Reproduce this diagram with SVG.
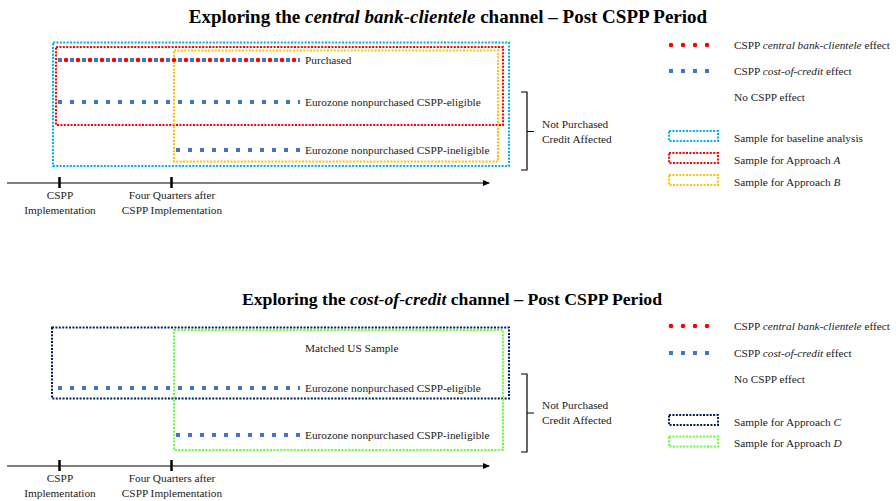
<svg xmlns="http://www.w3.org/2000/svg" width="896" height="501" viewBox="0 0 896 501">
<defs>
<style>
text{font-family:"Liberation Serif","Times New Roman",serif;font-size:11.3px;fill:#222}
.title{font-weight:bold;fill:#000}
.mid{text-anchor:middle}
.box{fill:none;stroke-width:2;stroke-dasharray:2 1.4}
.cyan{stroke:#00B0F0}.red{stroke:#FF0000}.orange{stroke:#FFC000}.navy{stroke:#002060}.green{stroke:#66FF33}
.bdots{stroke:#4472C4;stroke-width:4;stroke-dasharray:4 8;fill:none}
.rdots{stroke:#FF0000;stroke-width:4.5;stroke-linecap:round;stroke-dasharray:0 12;fill:none}
.axis{stroke:#000;stroke-width:1.2;fill:none}
.tick{stroke:#000;stroke-width:2.5}
.br{stroke:#000;stroke-width:1.2;fill:none}
</style>
<marker id="arr" markerWidth="8" markerHeight="8" refX="6" refY="3" orient="auto" markerUnits="userSpaceOnUse">
<path d="M0,0 L7,3 L0,6 z" fill="#000"/>
</marker>
</defs>

<!-- TOP PANEL -->
<text class="title mid" x="448" y="23" style="font-size:19px">Exploring the <tspan font-style="italic">central bank-clientele</tspan> channel – Post CSPP Period</text>

<g id="sample-baseline"><rect class="box cyan" x="53" y="42.5" width="456" height="123.5"/></g>
<g id="sample-A"><rect class="box red" x="56" y="47" width="447" height="78"/></g>
<g id="sample-B"><rect class="box orange" x="174" y="50.5" width="324" height="111"/></g>

<g id="connectors">
<line class="bdots" x1="58" y1="60" x2="300" y2="60"/>
<line class="rdots" x1="66" y1="60" x2="298" y2="60"/>
<line class="bdots" x1="58" y1="102" x2="300" y2="102"/>
<line class="bdots" x1="176" y1="150" x2="300" y2="150"/>
<line class="axis" x1="7" y1="183" x2="489" y2="183" marker-end="url(#arr)"/>
<line class="tick" x1="59.5" y1="177" x2="59.5" y2="188"/>
<line class="tick" x1="171.5" y1="177" x2="171.5" y2="188"/>
<path class="br" d="M521,92 H527 V170 H521 M527,131.5 H534"/>

<line class="bdots" x1="58" y1="388" x2="300" y2="388"/>
<line class="bdots" x1="176" y1="435" x2="300" y2="435"/>
<line class="axis" x1="7" y1="466" x2="489" y2="466" marker-end="url(#arr)"/>
<line class="tick" x1="59.5" y1="460" x2="59.5" y2="471"/>
<line class="tick" x1="171.5" y1="460" x2="171.5" y2="471"/>
<path class="br" d="M521,374 H527 V452 H521 M527,413 H534"/>
</g>

<g id="purchased"><text x="305" y="64">Purchased</text></g>
<g id="eligible-top"><text x="305" y="106">Eurozone nonpurchased CSPP-eligible</text></g>
<g id="ineligible-top"><text x="305" y="154">Eurozone nonpurchased CSPP-ineligible</text></g>
<g id="bracket-top"><text x="542" y="128">Not Purchased</text><text x="542" y="143">Credit Affected</text></g>
<g id="t1-top"><text class="mid" x="60" y="199">CSPP</text><text class="mid" x="60" y="214">Implementation</text></g>
<g id="t2-top"><text class="mid" x="172" y="199">Four Quarters after</text><text class="mid" x="172" y="214">CSPP Implementation</text></g>

<g id="legend-top">
<line class="rdots" x1="671" y1="45" x2="709" y2="45"/>
<text x="734" y="49">CSPP <tspan font-style="italic">central bank-clientele</tspan> effect</text>
<line class="bdots" x1="669" y1="71" x2="711" y2="71"/>
<text x="734" y="75">CSPP <tspan font-style="italic">cost-of-credit</tspan> effect</text>
<text x="734" y="101">No CSPP effect</text>
<rect class="box cyan" x="669" y="131" width="49" height="10"/>
<text x="734" y="142">Sample for baseline analysis</text>
<rect class="box red" x="669" y="153" width="49" height="10"/>
<text x="734" y="164">Sample for Approach <tspan font-style="italic">A</tspan></text>
<rect class="box orange" x="669" y="175" width="49" height="10"/>
<text x="734" y="186">Sample for Approach <tspan font-style="italic">B</tspan></text>
</g>

<!-- BOTTOM PANEL -->
<text class="title mid" x="452" y="305" style="font-size:17.7px">Exploring the <tspan font-style="italic">cost-of-credit</tspan> channel – Post CSPP Period</text>

<g id="sample-C"><rect class="box navy" x="52" y="327.5" width="457" height="71"/></g>
<g id="sample-D"><rect class="box green" x="174" y="330" width="329" height="120"/></g>

<g id="matched"><text x="305" y="352">Matched US Sample</text></g>
<g id="eligible-bot"><text x="305" y="392">Eurozone nonpurchased CSPP-eligible</text></g>
<g id="ineligible-bot"><text x="305" y="439">Eurozone nonpurchased CSPP-ineligible</text></g>
<g id="bracket-bot"><text x="542" y="409">Not Purchased</text><text x="542" y="424">Credit Affected</text></g>
<g id="t1-bot"><text class="mid" x="60" y="482">CSPP</text><text class="mid" x="60" y="497">Implementation</text></g>
<g id="t2-bot"><text class="mid" x="172" y="482">Four Quarters after</text><text class="mid" x="172" y="497">CSPP Implementation</text></g>

<g id="legend-bot">
<line class="rdots" x1="671" y1="326" x2="709" y2="326"/>
<text x="734" y="330">CSPP <tspan font-style="italic">central bank-clientele</tspan> effect</text>
<line class="bdots" x1="669" y1="353" x2="711" y2="353"/>
<text x="734" y="357">CSPP <tspan font-style="italic">cost-of-credit</tspan> effect</text>
<text x="734" y="383">No CSPP effect</text>
<rect class="box navy" x="669" y="415" width="49" height="10"/>
<text x="734" y="426">Sample for Approach <tspan font-style="italic">C</tspan></text>
<rect class="box green" x="669" y="436.5" width="49" height="10"/>
<text x="734" y="447">Sample for Approach <tspan font-style="italic">D</tspan></text>
</g>
</svg>
